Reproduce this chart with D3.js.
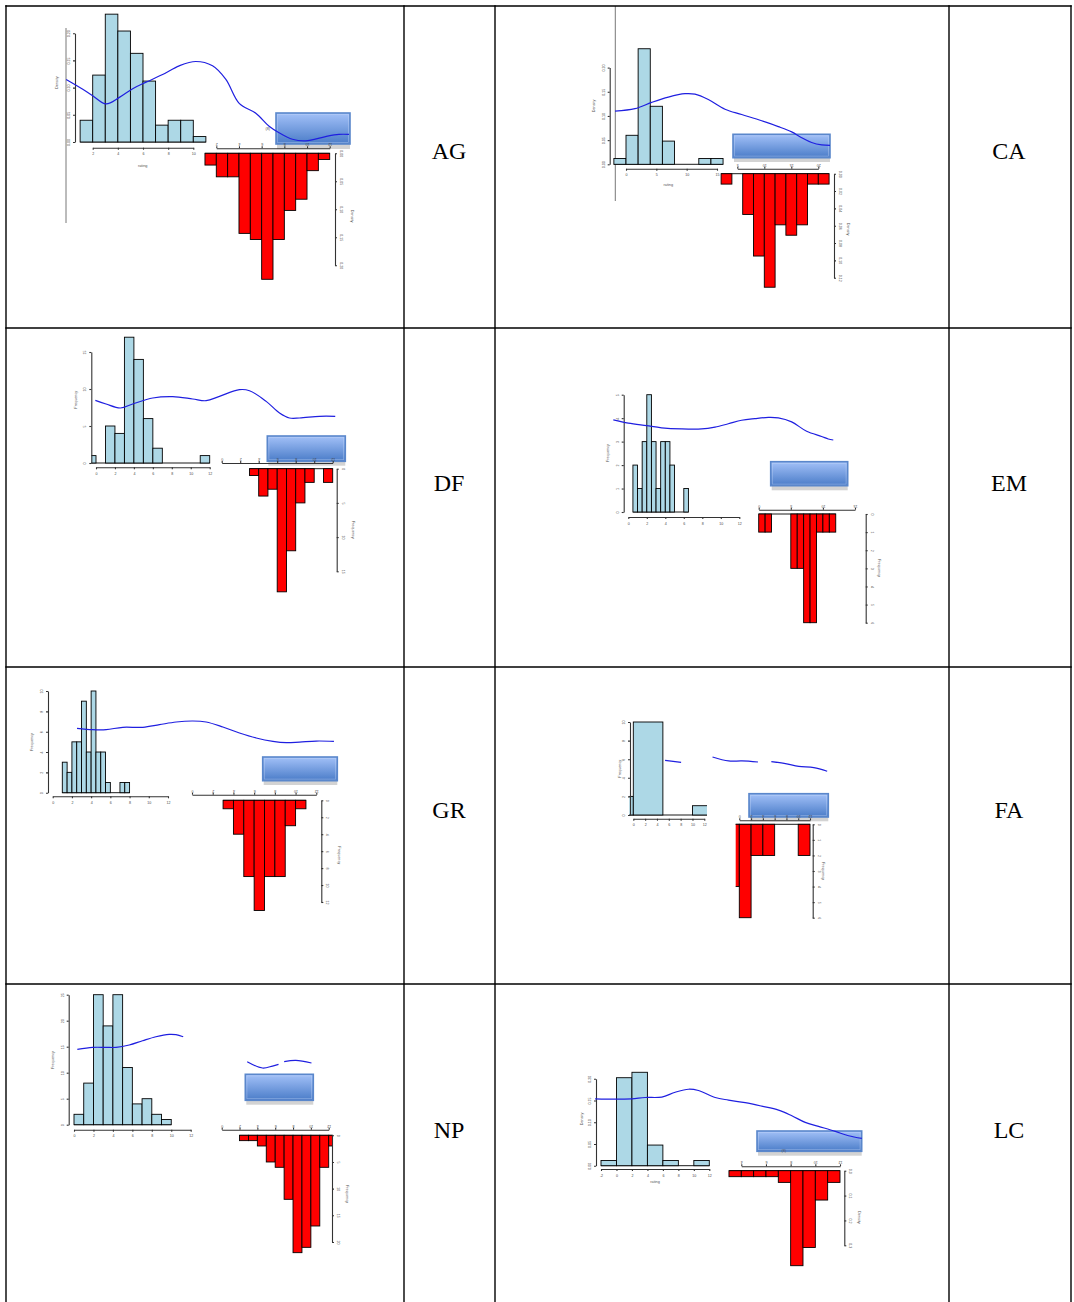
<!DOCTYPE html>
<html>
<head>
<meta charset="utf-8">
<script src="https://cdn.jsdelivr.net/npm/d3@7"></script>
<style>
body { margin: 0; background: #fff; }
svg { display: block; font-family: "Liberation Sans", Arial, sans-serif; }
.axis path, .axis line { stroke: #333; stroke-width: 1.1; }
.axis text { font-size: 3.6px; fill: #444; }
.title { font-size: 3.8px; fill: #555; }
.cell-label { font-family: "Liberation Serif", "Times New Roman", serif; font-size: 24px; fill: #000; }
</style>
</head>
<body>
<svg id="chart" width="1074" height="1302"></svg>
<script>
// ---- data ----
var panelNames = ["AG", "CA", "DF", "EM", "GR", "FA", "NP", "LC"];
var yTitles = ["Density", "Density", "Frequency", "Frequency", "Frequency", "Frequency", "Frequency", "Density"];
var ticks0to12 = ["0", "2", "4", "6", "8", "10", "12"];
var densTicks = ["0.00", "0.05", "0.10", "0.15", "0.20"];

// AG
var agBlueXTicks = ["2", "4", "6", "8", "10"];
var agBlueBin = [1, 1];
var agBlue = [0.040, 0.123, 0.235, 0.204, 0.163, 0.112, 0.031, 0.040, 0.040, 0.010];
var agRedXTicks = ["2", "4", "6", "8", "10", "12"];
var agRedBin = [1, 1];
var agRed = [0.021, 0.042, 0.042, 0.143, 0.154, 0.225, 0.154, 0.102, 0.082, 0.031, 0.011];
var agCurveX = [-0.11, 1.21, 2.0, 3.06, 4.12, 5.18, 6.24, 7.56, 8.88, 10.2, 11.53, 12.59, 13.65, 14.97, 16.03, 16.82, 17.88, 18.94, 20.52, 21.58, 22.38];
var agCurveY = [0.115, 0.097, 0.085, 0.070, 0.082, 0.098, 0.110, 0.124, 0.140, 0.148, 0.140, 0.115, 0.071, 0.053, 0.029, 0.017, 0.005, 0.002, 0.010, 0.014, 0.014];

// CA
var caBlueXTicks = ["0", "5", "10", "15"];
var caBlueBin = [-2, 2];
var caBlue = [0.012, 0.060, 0.239, 0.120, 0.048, 0, 0, 0.012, 0.012];
var caRedXTicks = ["5", "10", "15", "20"];
var caRedYTicks = ["0.00", "0.02", "0.04", "0.06", "0.08", "0.10", "0.12"];
var caRedBin = [2, 2];
var caRed = [0.012, 0, 0.047, 0.095, 0.131, 0.059, 0.071, 0.059, 0.012, 0.012];
var caCurveX = [-1.81, 1.48, 4.23, 6.98, 9.73, 11.37, 13.57, 16.32, 19.07, 22.36, 25.11, 27.31, 28.96, 30.6, 32.25, 33.63];
var caCurveY = [0.110, 0.115, 0.128, 0.139, 0.146, 0.145, 0.134, 0.114, 0.103, 0.090, 0.078, 0.067, 0.055, 0.045, 0.040, 0.039];

// DF
var dfBlueYTicks = ["0", "5", "10", "15"];
var dfBlueBin = [-1, 1];
var dfBlue = [1, 0, 5, 4, 17, 14, 6, 2, 0, 0, 0, 0, 1];
var dfRedYTicks = ["0", "5", "10", "15"];
var dfRedBin = [3, 1];
var dfRed = [1, 4, 3, 18, 12, 5, 2, 0, 2];
var dfCurveX = [-0.07, 1.06, 2.57, 3.87, 5.99, 8.1, 10.21, 11.62, 13.03, 15.14, 16.2, 17.96, 19.37, 20.42, 21.48, 23.59, 25.25];
var dfCurveY = [8.47, 7.97, 7.43, 7.97, 8.78, 8.96, 8.65, 8.42, 9.01, 9.91, 9.77, 8.33, 6.76, 6.08, 6.08, 6.31, 6.31];

// EM
var emBlueYTicks = ["0", "1", "2", "3", "4", "5"];
var emBlueBin = [0.5, 0.5];
var emBlue = [2, 1, 3, 5, 3, 1, 3, 3, 2, 0, 0, 1];
var emRedXTicks = ["0", "5", "10", "15"];
var emRedYTicks = ["0", "1", "2", "3", "4", "5", "6"];
var emRedBin = [0, 1];
var emRed = [1, 1, 0, 0, 0, 3, 3, 6, 6, 1, 1, 1];
var emCurveX = [-1.62, 0, 1.98, 3.6, 5.77, 7.93, 9.37, 10.81, 12.25, 13.69, 15.14, 16.22, 17.66, 19.28, 20.9, 21.62, 22.16];
var emCurveY = [3.93, 3.79, 3.68, 3.59, 3.54, 3.54, 3.62, 3.76, 3.91, 3.98, 4.03, 4.01, 3.84, 3.44, 3.22, 3.11, 3.07];

// GR
var grBlueYTicks = ["0", "2", "4", "6", "8", "10"];
var grBlueBin = [1, 0.5];
var grBlue = [3, 2, 5, 5, 9, 4, 10, 4, 4, 1, 0, 0, 1, 1];
var grRedYTicks = ["0", "2", "4", "6", "8", "10", "12"];
var grRedBin = [3, 1];
var grRed = [1, 4, 9, 13, 9, 9, 3, 1];
var grCurveX = [2.53, 4.17, 5.56, 7.29, 9.38, 11.11, 12.85, 14.58, 15.97, 17.71, 19.44, 21.18, 22.92, 24.31, 25.69, 27.43, 29.27];
var grCurveY = [6.33, 6.2, 6.2, 6.43, 6.43, 6.69, 6.95, 7.05, 6.95, 6.46, 5.87, 5.38, 5.05, 4.92, 4.98, 5.08, 5.05];

// FA
var faBlueYTicks = ["0", "2", "4", "6", "8", "10"];
var faBlueBin = [-5, 5];
var faBlue = [2, 10, 0, 1];
var faRedYTicks = ["0", "1", "2", "3", "4", "5", "6"];
var faRedBin = [-2, 2];
var faRed = [4, 6, 2, 2, 0, 0, 2];
var faCurveX = [5.37, 8.08, null, 13.39, 16.10, 18.36, 21.07, null, 23.33, 25.71, 27.97, 30.51, 32.77];
var faCurveY = [5.88, 5.66, null, 6.24, 5.81, 5.81, 5.70, null, 5.73, 5.52, 5.23, 5.09, 4.70];

// NP
var npBlueYTicks = ["0", "5", "10", "15", "20", "25"];
var npBlueBin = [0, 1];
var npBlue = [2, 8, 25, 19, 25, 11, 4, 5, 2, 1];
var npRedYTicks = ["0", "5", "10", "15", "20"];
var npRedBin = [2, 1];
var npRed = [1, 1, 2, 5, 6, 12, 22, 21, 17, 6, 2];
var npCurveX = [0.34, 1.92, 3.29, 4.32, 5.68, 7.05, 8.42, 9.79, 10.48, 11.23, null, 17.81, 19.38, 20.41, 21.03, null, 21.61, 22.81, 24.42];
var npCurveY = [14.49, 14.87, 14.87, 14.87, 15.32, 16.15, 16.92, 17.37, 17.31, 16.92, null, 12.12, 10.9, 11.28, 11.6, null, 12.12, 12.37, 11.86];

// LC
var lcBlueXTicks = ["-2", "0", "2", "4", "6", "8", "10", "12"];
var lcBlueBin = [-2, 2];
var lcBlue = [0.012, 0.2025, 0.215, 0.0475, 0.012, 0, 0.012];
var lcRedXTicks = ["4", "6", "8", "10", "12"];
var lcRedYTicks = ["0.0", "0.1", "0.2", "0.3"];
var lcRedBin = [3, 1];
var lcRed = [0.024, 0.024, 0.024, 0.024, 0.047, 0.382, 0.309, 0.118, 0.047];
var lcCurveX = [-2.76, -0.17, 1.98, 3.71, 5.86, 7.59, 9.31, 10.6, 12.76, 14.48, 16.64, 18.79, 20.95, 22.67, 24.4, 26.12, 28.28, 30.0, 31.72];
var lcCurveY = [0.154, 0.153, 0.154, 0.157, 0.158, 0.169, 0.176, 0.173, 0.157, 0.151, 0.145, 0.137, 0.128, 0.115, 0.0997, 0.0905, 0.079, 0.069, 0.063];

var panels = [
  {blueX: agBlueXTicks, blueY: densTicks, blueBin: agBlueBin, blue: agBlue, redX: agRedXTicks, redY: densTicks, redBin: agRedBin, red: agRed, cx: agCurveX, cy: agCurveY},
  {blueX: caBlueXTicks, blueY: densTicks, blueBin: caBlueBin, blue: caBlue, redX: caRedXTicks, redY: caRedYTicks, redBin: caRedBin, red: caRed, cx: caCurveX, cy: caCurveY},
  {blueX: ticks0to12, blueY: dfBlueYTicks, blueBin: dfBlueBin, blue: dfBlue, redX: ticks0to12, redY: dfRedYTicks, redBin: dfRedBin, red: dfRed, cx: dfCurveX, cy: dfCurveY},
  {blueX: ticks0to12, blueY: emBlueYTicks, blueBin: emBlueBin, blue: emBlue, redX: emRedXTicks, redY: emRedYTicks, redBin: emRedBin, red: emRed, cx: emCurveX, cy: emCurveY},
  {blueX: ticks0to12, blueY: grBlueYTicks, blueBin: grBlueBin, blue: grBlue, redX: ticks0to12, redY: grRedYTicks, redBin: grRedBin, red: grRed, cx: grCurveX, cy: grCurveY},
  {blueX: ticks0to12, blueY: faBlueYTicks, blueBin: faBlueBin, blue: faBlue, redX: ticks0to12, redY: faRedYTicks, redBin: faRedBin, red: faRed, cx: faCurveX, cy: faCurveY},
  {blueX: ticks0to12, blueY: npBlueYTicks, blueBin: npBlueBin, blue: npBlue, redX: ticks0to12, redY: npRedYTicks, redBin: npRedBin, red: npRed, cx: npCurveX, cy: npCurveY},
  {blueX: lcBlueXTicks, blueY: densTicks, blueBin: lcBlueBin, blue: lcBlue, redX: lcRedXTicks, redY: lcRedYTicks, redBin: lcRedBin, red: lcRed, cx: lcCurveX, cy: lcCurveY}
];

// ---- layout (pixel positions inside the table) ----
var layouts = [
  {label: [449, 151], bx: [92.7, 193.3], by: [142, 33.2], bxAxis: 147.7, byAxis: 75, bClip: [74, 1074],
   rx: [216.3, 329.7], rAxis: 148.3, ry: [153.3, 265.3], rRight: 335, rClip: [0, 1074],
   box: [276, 113, 350, 144, 149], ylab: [57.7, 82.7], xlab: [142.7, 166.7], rlab: [351, 216], vline: [66, 28, 223], note: [267.7, 130.3]},
  {label: [1009, 151], bx: [626, 717], by: [164.3, 67.6], bxAxis: 168.7, byAxis: 609.7, bClip: [609, 1074],
   rx: [737.3, 818.3], rAxis: 168.7, ry: [173.7, 277.7], rRight: 834, rClip: [0, 1074],
   box: [733, 134.3, 830, 157.7, 162], ylab: [595, 106], xlab: [668.3, 186], rlab: [847.3, 229], vline: [615.3, 6, 201]},
  {label: [449, 483], bx: [96, 209.7], by: [463, 352], bxAxis: 467.3, byAxis: 91.3, bClip: [91.3, 1074],
   rx: [221.7, 332.7], rAxis: 463, ry: [468.7, 571.3], rRight: 336.7, rClip: [0, 1074],
   box: [267.3, 436, 345.3, 461.3, 465.7], ylab: [76.7, 399.7], rlab: [351.7, 529.7]},
  {label: [1009, 483], bx: [628.3, 739.3], by: [512, 394.7], bxAxis: 517, byAxis: 623.7, bClip: [623, 1074],
   rx: [758.7, 855], rAxis: 509.7, ry: [514, 622.7], rRight: 865.7, rClip: [0, 1074],
   box: [770.7, 461.7, 847.7, 485.7, 490.3], ylab: [609.3, 453], rlab: [878.3, 568]},
  {label: [449, 810], bx: [52.7, 168], by: [792.7, 691], bxAxis: 796.3, byAxis: 48, bClip: [47, 1074],
   rx: [192, 316.3], rAxis: 794.7, ry: [800.3, 902], rRight: 321.3, rClip: [0, 1074],
   box: [262.7, 757, 337.3, 780.7, 785], ylab: [32.7, 742], rlab: [337.7, 855.3]},
  {label: [1009, 810], bx: [633.3, 704.3], by: [815, 722], bxAxis: 818.7, byAxis: 630, bClip: [629.3, 707],
   rx: [739.3, 810], rAxis: 820.3, ry: [824.3, 917.7], rRight: 812.7, rClip: [735.7, 1074],
   box: [749, 793.7, 828.3, 817, 821.3], ylab: [621, 768.7], rlab: [821.7, 871]},
  {label: [449, 1130], bx: [74, 190.7], by: [1124.7, 994.7], bxAxis: 1129.7, byAxis: 68.7, bClip: [68, 1074],
   rx: [221.7, 328.7], rAxis: 1129.7, ry: [1135.3, 1242], rRight: 332, rClip: [0, 332.7],
   box: [245.3, 1074.3, 313.3, 1100.3, 1104.7], ylab: [53.7, 1060], rlab: [346, 1194]},
  {label: [1009, 1130], bx: [601, 709.3], by: [1165.7, 1078.8], bxAxis: 1169, byAxis: 596, bClip: [595, 1074],
   rx: [741.3, 840], rAxis: 1166.3, ry: [1170.7, 1245.3], rRight: 844.3, rClip: [0, 1074],
   box: [757, 1131, 861.7, 1151.3, 1155.7], ylab: [582.7, 1119], xlab: [655, 1183], rlab: [858.3, 1217.3], note: [783.7, 1152.3]}
];

var svg = d3.select("#chart");
svg.append("rect").attr("width", 1074).attr("height", 1302).attr("fill", "#fff");
var defs = svg.append("defs");
var grad = defs.append("linearGradient").attr("id", "boxFill")
    .attr("x1", 0).attr("y1", 0).attr("x2", 0).attr("y2", 1);
grad.append("stop").attr("offset", "0%").attr("stop-color", "#a3c1f8");
grad.append("stop").attr("offset", "100%").attr("stop-color", "#4a7cc8");

function binBars(g, data, bin, xs, ys, fill, down) {
  var b0 = bin[0], bw = bin[1];
  g.append("line")
      .attr("x1", xs(b0)).attr("x2", xs(b0 + bw * data.length))
      .attr("y1", ys(0)).attr("y2", ys(0))
      .attr("stroke", "#000").attr("stroke-width", 0.9);
  g.selectAll("rect.bar")
      .data(data)
      .enter()
      .append("rect")
      .attr("class", "bar")
      .attr("x", function(d, i) { return xs(b0 + i * bw); })
      .attr("width", function(d, i) { return xs(b0 + (i + 1) * bw) - xs(b0 + i * bw); })
      .attr("y", function(d) { return down ? ys(0) : ys(d); })
      .attr("height", function(d) { return Math.abs(ys(d) - ys(0)); })
      .attr("fill", fill)
      .attr("stroke", "#000")
      .attr("stroke-width", 0.9)
      .style("display", function(d) { return d > 0 ? null : "none"; });
}

function drawPanel(p, L, i) {
  var name = panelNames[i];
  var g = svg.append("g").attr("class", "panel-" + name);

  var bxT = p.blueX.map(Number), byT = p.blueY.map(Number);
  var bx = d3.scaleLinear().domain([bxT[0], bxT[bxT.length - 1]]).range(L.bx);
  var by = d3.scaleLinear().domain([0, byT[byT.length - 1]]).range(L.by);

  if (L.vline) {
    g.append("line")
        .attr("x1", L.vline[0]).attr("x2", L.vline[0])
        .attr("y1", L.vline[1]).attr("y2", L.vline[2])
        .attr("stroke", "#555").attr("stroke-width", 0.8);
  }

  // blue histogram
  defs.append("clipPath").attr("id", "cb" + name)
    .append("rect").attr("x", L.bClip[0]).attr("y", 0)
      .attr("width", L.bClip[1] - L.bClip[0]).attr("height", 1302);
  var bg = g.append("g").attr("clip-path", "url(#cb" + name + ")");
  binBars(bg, p.blue, p.blueBin, bx, by, "#add8e6", false);

  g.append("g")
      .attr("class", "axis")
      .attr("transform", "translate(0," + L.bxAxis + ")")
      .call(d3.axisBottom(bx).tickValues(bxT)
          .tickFormat(function(d, k) { return p.blueX[k]; })
          .tickSize(2).tickSizeOuter(0).tickPadding(3));

  var yAx = g.append("g")
      .attr("class", "axis")
      .attr("transform", "translate(" + L.byAxis + ",0)")
      .call(d3.axisLeft(by).tickValues(byT)
          .tickFormat(function(d, k) { return p.blueY[k]; })
          .tickSize(2).tickSizeOuter(0));
  yAx.selectAll("text")
      .attr("x", 0).attr("dy", 0)
      .attr("transform", "translate(-5,0) rotate(-90)")
      .style("text-anchor", "middle");

  g.append("text").attr("class", "title")
      .attr("transform", "translate(" + L.ylab[0] + "," + L.ylab[1] + ") rotate(-90)")
      .attr("text-anchor", "middle")
      .text(yTitles[i]);
  if (L.xlab) {
    g.append("text").attr("class", "title")
        .attr("x", L.xlab[0]).attr("y", L.xlab[1])
        .attr("text-anchor", "middle")
        .text("rating");
  }

  // blue label box
  var b = L.box;
  g.append("rect")
      .attr("x", b[0] + 1).attr("y", b[3])
      .attr("width", b[2] - b[0] - 1).attr("height", b[4] - b[3])
      .attr("fill", "#d3d3d3");
  g.append("rect")
      .attr("x", b[0]).attr("y", b[1])
      .attr("width", b[2] - b[0]).attr("height", b[3] - b[1])
      .attr("fill", "url(#boxFill)")
      .attr("stroke", "#5a87cb").attr("stroke-width", 1.6);
  g.append("rect")
      .attr("x", b[0] + 1.6).attr("y", b[1] + 1.6)
      .attr("width", b[2] - b[0] - 3.2).attr("height", b[3] - b[1] - 3.2)
      .attr("fill", "none")
      .attr("stroke", "#c9dafa").attr("stroke-opacity", 0.5).attr("stroke-width", 0.7);

  // red (upside-down) histogram
  var rxT = p.redX.map(Number), ryT = p.redY.map(Number);
  var rx = d3.scaleLinear().domain([rxT[0], rxT[rxT.length - 1]]).range(L.rx);
  var ry = d3.scaleLinear().domain([0, ryT[ryT.length - 1]]).range(L.ry);

  defs.append("clipPath").attr("id", "cr" + name)
    .append("rect").attr("x", L.rClip[0]).attr("y", 0)
      .attr("width", L.rClip[1] - L.rClip[0]).attr("height", 1302);
  var rg = g.append("g").attr("clip-path", "url(#cr" + name + ")");
  binBars(rg, p.red, p.redBin, rx, ry, "#ff0000", true);

  var rTop = g.append("g")
      .attr("class", "axis")
      .attr("transform", "translate(0," + L.rAxis + ")")
      .call(d3.axisTop(rx).tickValues(rxT)
          .tickFormat(function(d, k) { return p.redX[k]; })
          .tickSize(2).tickSizeOuter(0));
  rTop.selectAll("text")
      .attr("y", 0).attr("dy", 0)
      .attr("transform", "translate(0,-5) rotate(180)")
      .style("text-anchor", "middle");

  var rRight = g.append("g")
      .attr("class", "axis")
      .attr("transform", "translate(" + L.rRight + ",0)")
      .call(d3.axisRight(ry).tickValues(ryT)
          .tickFormat(function(d, k) { return p.redY[k]; })
          .tickSize(2).tickSizeOuter(0));
  rRight.selectAll("text")
      .attr("x", 0).attr("dy", 0)
      .attr("transform", "translate(5,0) rotate(90)")
      .style("text-anchor", "middle");

  g.append("text").attr("class", "title")
      .attr("transform", "translate(" + L.rlab[0] + "," + L.rlab[1] + ") rotate(90)")
      .attr("text-anchor", "middle")
      .text(yTitles[i]);

  if (L.note) {
    g.append("text").attr("class", "title")
        .attr("x", L.note[0]).attr("y", L.note[1])
        .attr("text-anchor", "middle")
        .text("(8)");
  }

  // density curve
  var pts = p.cx.map(function(x, k) { return [x, p.cy[k]]; });
  var line = d3.line()
      .defined(function(d) { return d[0] !== null && d[1] !== null; })
      .x(function(d) { return bx(d[0]); })
      .y(function(d) { return by(d[1]); })
      .curve(d3.curveCatmullRom);
  g.append("path")
      .attr("d", line(pts))
      .attr("fill", "none")
      .attr("stroke", "#1f1fe0")
      .attr("stroke-width", 1.2);

  // cell label
  svg.append("text").attr("class", "cell-label")
      .attr("x", L.label[0]).attr("y", L.label[1])
      .attr("dy", "0.35em")
      .attr("text-anchor", "middle")
      .text(name);
}

panels.forEach(function(p, i) { drawPanel(p, layouts[i], i); });

// table grid
var colX = [6, 404, 495, 949, 1071];
var rowY = [6, 328, 667, 984];
var grid = svg.append("g").attr("stroke", "#000").attr("stroke-width", 1.4);
grid.selectAll("line.v").data(colX).enter().append("line")
    .attr("x1", function(d) { return d; }).attr("x2", function(d) { return d; })
    .attr("y1", 5.3).attr("y2", 1302);
grid.selectAll("line.h").data(rowY).enter().append("line")
    .attr("y1", function(d) { return d; }).attr("y2", function(d) { return d; })
    .attr("x1", 5.3).attr("x2", 1071.7);
</script>
</body>
</html>
